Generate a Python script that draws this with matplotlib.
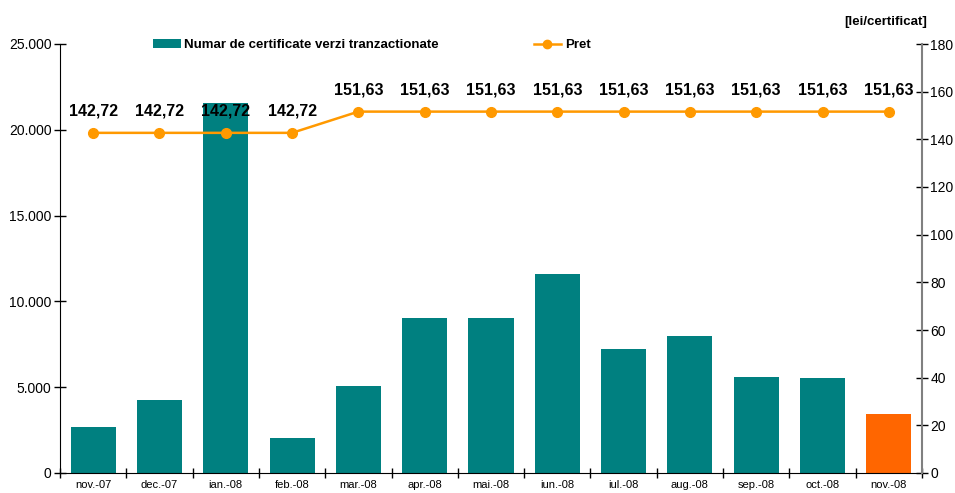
import matplotlib
matplotlib.use("Agg")
import matplotlib.pyplot as plt
from matplotlib.patches import Patch
from matplotlib.lines import Line2D
import numpy as np

plt.rcParams['font.family'] = ['Liberation Sans', 'DejaVu Sans']

months = ["nov.-07", "dec.-07", "ian.-08", "feb.-08", "mar.-08", "apr.-08", "mai.-08",
          "iun.-08", "iul.-08", "aug.-08", "sep.-08", "oct.-08", "nov.-08"]
volumes = [2700, 4250, 21550, 2050, 5080, 9030, 9030, 11620, 7230, 7980, 5600, 5560, 3450]
prices = [142.72, 142.72, 142.72, 142.72, 151.63, 151.63, 151.63, 151.63, 151.63,
          151.63, 151.63, 151.63, 151.63]
price_labels = ["142,72"] * 4 + ["151,63"] * 9

teal = "#008080"
orange_bar = "#FF6600"
line_col = "#FF9900"

fig = plt.figure(figsize=(9.55, 4.93), dpi=100)
ax = fig.add_axes([60/955, 20/493, (922-60)/955, (473-44)/493])
x = np.arange(len(months))
colors = [teal] * (len(months) - 1) + [orange_bar]
ax.bar(x, volumes, width=0.68, color=colors, zorder=2)
ax.set_xlim(-0.5, len(months) - 0.5)
ax.set_ylim(0, 25000)
ax.set_yticks(np.arange(0, 25001, 5000))
ax.set_yticklabels([f"{v:,}".replace(",", ".") for v in range(0, 25001, 5000)], fontsize=10)
ax.set_xticks(np.arange(-0.5, len(months), 1.0))
ax.set_xticklabels([])
ax.set_xticks(x, minor=True)
ax.set_xticklabels(months, minor=True, fontsize=8)
ax.tick_params(axis='x', which='minor', length=0, pad=5)
ax.tick_params(axis='x', which='major', direction='inout', length=7, width=1)
ax.tick_params(axis='y', direction='inout', length=8, width=1, pad=2)
for s in ['top', 'right']:
    ax.spines[s].set_visible(False)
ax.spines['left'].set_color('black')
ax.spines['bottom'].set_color('black')

ax2 = ax.twinx()
ax2.plot(x, prices, color=line_col, marker='o', markersize=7, linewidth=1.8, zorder=3)
ax2.set_ylim(0, 180)
ax2.set_yticks(np.arange(0, 181, 20))
ax2.tick_params(axis='y', direction='inout', length=8, width=1, labelsize=10, pad=2)
for s in ['top', 'left', 'bottom']:
    ax2.spines[s].set_visible(False)
ax2.spines['right'].set_color('#808080')
ax2.spines['right'].set_linewidth(1.5)
for xi, p, lab in zip(x, prices, price_labels):
    ax2.annotate(lab, (xi, p), xytext=(0, 10), textcoords='offset points',
                 ha='center', va='bottom', fontsize=11.5, fontweight='bold')

fig.text(927/955, 1 - 22/493, "[lei/certificat]", ha='right', va='center',
         fontsize=9.5, fontweight='bold')

h1 = Patch(facecolor=teal)
h2 = Line2D([0], [0], color=line_col, marker='o', markersize=6, linewidth=1.8)
leg = fig.legend([h1, h2], ["Numar de certificate verzi tranzactionate", "Pret"],
                 loc='center left', bbox_to_anchor=(153/955, 1 - 45/493), ncol=2,
                 frameon=False, prop={'weight': 'bold', 'size': 9.5},
                 handlelength=2.1, handleheight=0.75, handletextpad=0.25, columnspacing=7.2,
                 borderpad=0, borderaxespad=0)

fig.savefig("out.png", dpi=100)
